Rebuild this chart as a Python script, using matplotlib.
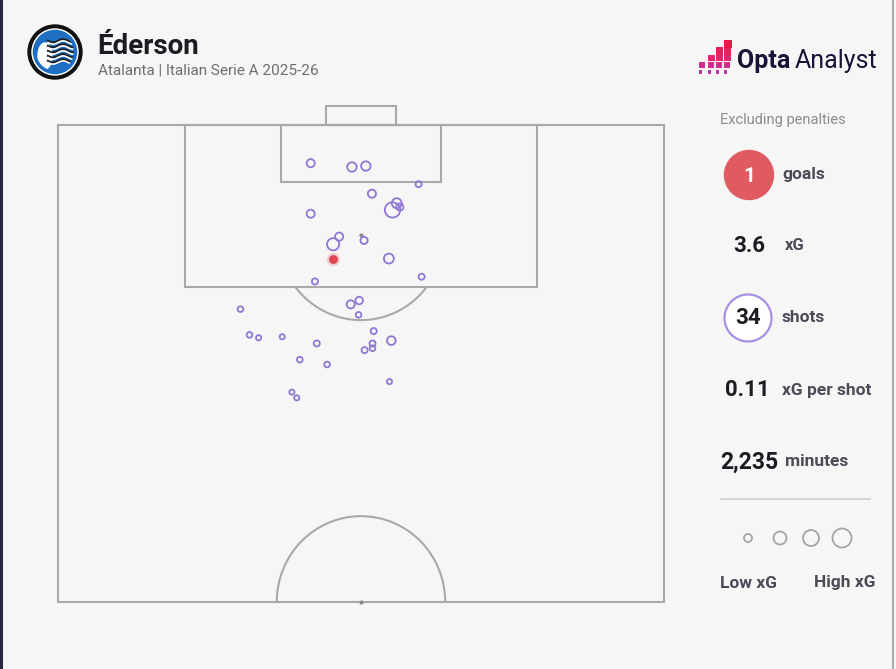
import numpy as np
import matplotlib.pyplot as plt
from matplotlib.patches import Circle, Rectangle, Ellipse, Arc

# -------- DATA --------
player = "Éderson"
subtitle = "Atalanta | Italian Serie A 2025-26"

# shot locations: across = pitch width (0-100, left to right), dist = Opta x (100 = goal line)
shot_across = [41.7, 48.5, 50.8, 59.5, 51.8, 55.9, 56.4, 55.2, 41.7, 46.4, 45.4, 50.5,
               54.6, 42.4, 60.0, 30.1, 48.3, 49.7, 49.6, 31.6, 33.1, 37.0, 52.1, 42.7,
               51.9, 55.0, 50.6, 51.9, 39.9, 44.4, 54.7, 38.6, 39.4]
shot_dist = [96.0, 95.6, 95.7, 93.8, 92.8, 91.8, 91.4, 91.1, 90.7, 88.3, 87.5, 87.9,
             86.0, 83.6, 84.1, 80.7, 81.2, 81.6, 80.1, 78.0, 77.7, 77.8, 78.4, 77.1,
             77.1, 77.4, 76.4, 76.6, 75.4, 74.9, 73.1, 72.0, 71.4]
shot_xg = [0.12, 0.17, 0.17, 0.06, 0.12, 0.19, 0.09, 0.50, 0.12, 0.12, 0.30, 0.09,
           0.19, 0.06, 0.06, 0.05, 0.12, 0.10, 0.05, 0.05, 0.04, 0.04, 0.06, 0.06,
           0.06, 0.14, 0.06, 0.05, 0.05, 0.05, 0.04, 0.04, 0.04]

goal_across = [45.4]
goal_dist = [86.0]
goal_xg = [0.14]

stat_goals = 1
stat_xg = 3.6
stat_shots = 34
stat_xg_per_shot = 0.11
stat_minutes = 2235

# -------- STYLE --------
BG = "#f6f6f7"
LINE = "#a9a9a9"
PURPLE = "#9077d4"
RED = "#e2474f"
DARK = "#1b1b22"
GREY_TXT = "#4b4b58"
DPI = 100

plt.rcParams["font.family"] = ["Roboto", "DejaVu Sans"]


def xg_to_size(xg):
    r_px = 0.6 + 10 * np.sqrt(np.asarray(xg))
    return (2 * r_px * 72 / DPI) ** 2


fig = plt.figure(figsize=(8.96, 6.69), dpi=DPI, facecolor=BG)

# background axes in pixel coordinates
bg = fig.add_axes([0, 0, 1, 1])
bg.set_xlim(0, 896)
bg.set_ylim(669, 0)
bg.axis("off")

# frame edges
bg.plot([1.2, 1.2], [0, 669], color="#2b2340", lw=2.2)
bg.plot([892.5, 892.5], [0, 669], color="#9a9a9a", lw=1.2)

# -------- PITCH --------
ax = fig.add_axes([58 / 896, (669 - 602) / 669, 606 / 896, 477 / 669])
ax.set_xlim(0, 100)
ax.set_ylim(50, 100)
ax.axis("off")
ax.patch.set_alpha(0)

lw = 1.5
kw = dict(fill=False, ec=LINE, lw=lw, clip_on=False)
ax.add_patch(Rectangle((0, 50), 100, 50, **kw))
ax.add_patch(Rectangle((21.0, 83.0), 58.0, 17.0, **kw))
ax.add_patch(Rectangle((36.8, 94.0), 26.4, 6.0, **kw))
ax.add_patch(Rectangle((44.2, 100), 11.6, 2.0, **kw))

# D outside the penalty box
t = np.linspace(np.pi, 2 * np.pi, 200)
dx = 50 + 13.7 * np.cos(t)
dy = 88.5 + 8.95 * np.sin(t)
keep = dy <= 83.0
ax.plot(dx[keep], dy[keep], color=LINE, lw=lw)

ax.add_patch(Arc((50, 50), 27.8, 18.0, theta1=0, theta2=180, ec=LINE, lw=lw, clip_on=False))
ax.scatter([50], [88.5], s=4, color="#8a8a8a", zorder=3)
ax.scatter([50], [50], s=4, color="#8a8a8a", zorder=3, clip_on=False)

ax.scatter(shot_across, shot_dist, s=xg_to_size(shot_xg), facecolor="none",
           edgecolor=PURPLE, lw=1.3, zorder=4)
ax.scatter(goal_across, goal_dist, s=xg_to_size(goal_xg) * 2.4, color=RED, alpha=0.22,
           lw=0, zorder=5)
ax.scatter(goal_across, goal_dist, s=xg_to_size(goal_xg) * 1.05, color=RED, lw=0, zorder=6)

# -------- HEADER --------
# club badge (simplified)
bg.add_patch(Circle((55, 52), 27, color="#111111", zorder=2))
bg.add_patch(Circle((55, 52), 23, color="white", zorder=3))
bg.add_patch(Circle((55, 52), 20.5, color="#1e6fc2", zorder=4))
bg.add_patch(Ellipse((45, 56), 14, 26, color="white", zorder=5))
wx = np.linspace(48, 73, 60)
for wy in [41, 46, 51, 56, 61]:
    bg.plot(wx, wy + 1.6 * np.sin((wx - 48) / 3.2), color="#1a1a1a", lw=1.6, zorder=6)
    bg.plot(wx, wy + 1.6 * np.sin((wx - 48) / 3.2) + 1.5, color="white", lw=1.2, zorder=6)
bg.add_patch(Circle((55, 52), 20.5, fill=False, ec="#1e6fc2", lw=2.5, zorder=7))

bg.text(97, 46, player, fontsize=20, fontweight="bold", color=DARK, va="center", ha="left")
bg.text(98, 70, subtitle, fontsize=11, color="#6e6e6e", va="center", ha="left")

# Opta Analyst logo (pixel blocks + wordmark)
cols = [699, 708, 716, 724]
rows = [72, 65, 58, 51, 44]
block_cols = ["#b83aa8", "#cf2f8a", "#dc2a6e", "#e2235a", "#e8194d"]
for ci, cx in enumerate(cols):
    for ri in range(min(ci + 2, len(rows))):
        size = 3.2 if ri == 0 else 5.5 + 0.6 * ri
        bg.add_patch(Rectangle((cx, rows[ri] - size / 2), size, size, color=block_cols[ri], lw=0))
bg.text(737, 61, "Opta", fontsize=18, fontweight="bold", color="#1c1238", va="center", ha="left")
bg.text(795, 61, "Analyst", fontsize=18, color="#1c1238", va="center", ha="left")

# -------- RIGHT PANEL --------
bg.text(720, 120, "Excluding penalties", fontsize=10.5, color="#8c8c8c", va="center", ha="left")

bg.add_patch(Circle((749, 175), 24.5, color="#e05a62", zorder=2))
bg.text(749, 176, f"{stat_goals}", fontsize=15, fontweight="bold", color="white",
        va="center", ha="center", zorder=3)
bg.text(782, 175, "goals", fontsize=12.5, fontweight="bold", color=GREY_TXT, va="center", ha="left")

bg.text(749, 246, f"{stat_xg:.1f}", fontsize=16, fontweight="bold", color=DARK, va="center", ha="center")
bg.text(785, 246, "xG", fontsize=12, fontweight="bold", color=GREY_TXT, va="center", ha="left")

bg.add_patch(Circle((748, 318), 23.5, fc="white", ec="#a890e2", lw=1.6, zorder=2))
bg.text(748, 318, f"{stat_shots}", fontsize=16, fontweight="bold", color=DARK,
        va="center", ha="center", zorder=3)
bg.text(782, 318, "shots", fontsize=12.5, fontweight="bold", color=GREY_TXT, va="center", ha="left")

bg.text(770, 390, f"{stat_xg_per_shot:.2f}", fontsize=16, fontweight="bold", color=DARK,
        va="center", ha="right")
bg.text(782, 390, "xG per shot", fontsize=12.5, fontweight="bold", color=GREY_TXT, va="center", ha="left")

bg.text(778, 462, f"{stat_minutes:,}", fontsize=16.5, fontweight="bold", color=DARK,
        va="center", ha="right")
bg.text(785, 462, "minutes", fontsize=12.5, fontweight="bold", color=GREY_TXT, va="center", ha="left")

bg.plot([721, 870], [499, 499], color="#cfcfcf", lw=1.2)

for cx, r in zip([748, 780, 811, 842], [4, 6.5, 8, 9.5]):
    bg.add_patch(Circle((cx, 538), r, fill=False, ec="#a5a5a5", lw=1.3))
bg.text(720, 583, "Low xG", fontsize=12.5, fontweight="bold", color=GREY_TXT, va="center", ha="left")
bg.text(876, 583, "High xG", fontsize=12.5, fontweight="bold", color=GREY_TXT, va="center", ha="right")

fig.savefig("out.png", dpi=DPI, facecolor=BG)
